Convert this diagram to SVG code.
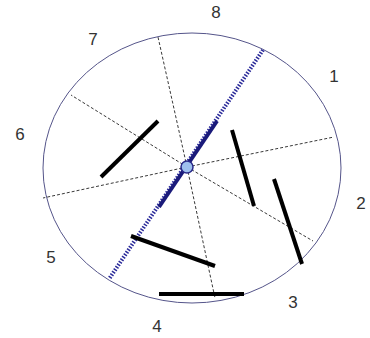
<svg xmlns="http://www.w3.org/2000/svg" width="370" height="338" viewBox="0 0 370 338">
<style>
.lbl{font-family:"Liberation Sans",Arial,sans-serif;font-size:17px;fill:#333;text-anchor:middle;dominant-baseline:central}
.dash{stroke:#222;stroke-width:0.9;stroke-dasharray:3,2;fill:none}
.bar{stroke:#000;stroke-width:4;stroke-linecap:butt}
</style>
<rect width="370" height="338" fill="#fff"/>
<g id="boundary"><ellipse cx="192" cy="168" rx="149" ry="135" fill="none" stroke="#55558a" stroke-width="1"/></g>
<g id="connectors">
<line class="dash" x1="187" y1="167" x2="158" y2="37"/>
<line class="dash" x1="187" y1="167" x2="71" y2="95"/>
<line class="dash" x1="187" y1="167" x2="334" y2="137"/>
<line class="dash" x1="187" y1="167" x2="43" y2="198"/>
<line class="dash" x1="187" y1="167" x2="313" y2="241"/>
<line class="dash" x1="187" y1="167" x2="215" y2="298"/>
</g>
<g id="axis">
<line x1="263" y1="50" x2="109" y2="279" stroke="#2a2a9a" stroke-width="4" stroke-dasharray="1.5,1.5"/>
<line x1="217" y1="121" x2="159" y2="207" stroke="#1a1a7a" stroke-width="4"/>
</g>
<g id="bars">
<line class="bar" x1="101" y1="177" x2="158" y2="121"/>
<line class="bar" x1="232" y1="130" x2="254" y2="206"/>
<line class="bar" x1="274" y1="179" x2="302" y2="264"/>
<line class="bar" x1="131" y1="236" x2="215" y2="266"/>
<line class="bar" x1="159" y1="294" x2="244" y2="294"/>
</g>
<g id="hub"><circle cx="187" cy="167" r="6" fill="#9ec0ee" stroke="#2a2a8a" stroke-width="1.5"/></g>
<g id="labels">
<text class="lbl" x="216" y="12">8</text>
<text class="lbl" x="93" y="39">7</text>
<text class="lbl" x="334" y="76">1</text>
<text class="lbl" x="20" y="134">6</text>
<text class="lbl" x="361" y="203">2</text>
<text class="lbl" x="51" y="257">5</text>
<text class="lbl" x="293" y="302">3</text>
<text class="lbl" x="157" y="326">4</text>
</g>
</svg>
